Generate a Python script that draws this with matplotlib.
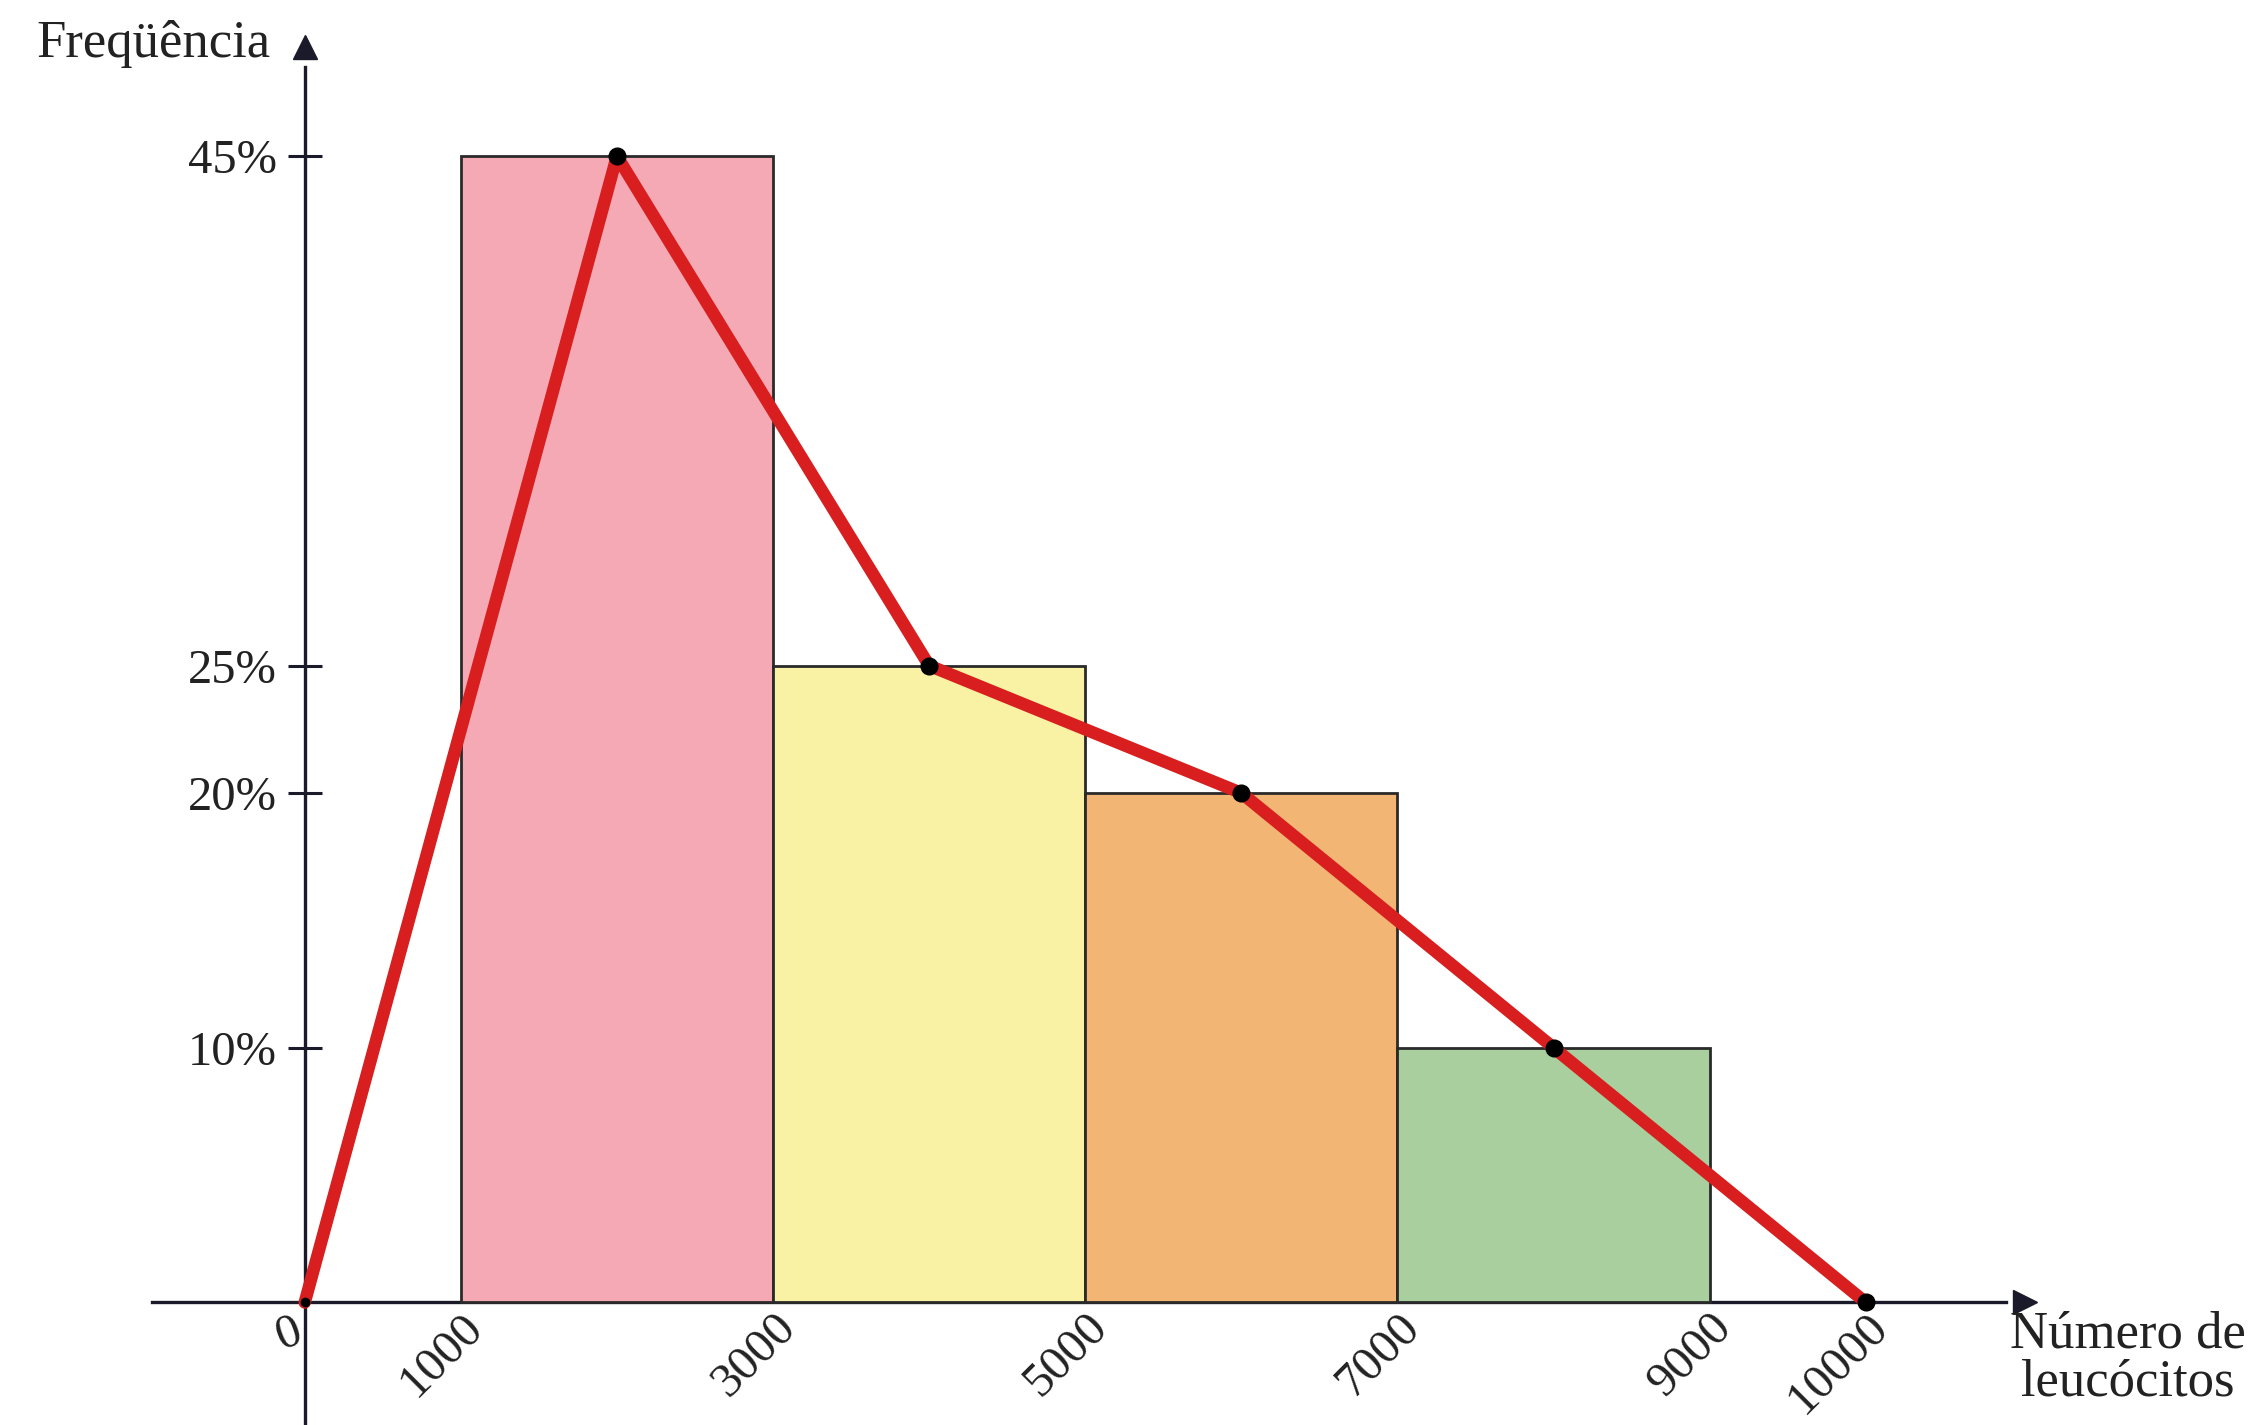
import numpy as np
import matplotlib.pyplot as plt

# classes de leucócitos (limites) e frequência relativa (%)
class_edges = [1000, 3000, 5000, 7000, 9000]
freq = [45, 25, 20, 10]
bar_colors = ['#f5a9b4', '#f9f1a3', '#f2b574', '#a9cf9e']

# polígono de frequências (pontos médios + extremos)
poly_x = [0, 2000, 4000, 6000, 8000, 10000]
poly_y = [0, 45, 25, 20, 10, 0]

x_ticks = [1000, 3000, 5000, 7000, 9000, 10000]
y_ticks = [10, 20, 25, 45]
y_ticklabels = ['10%', '20%', '25%', '45%']

plt.rcParams['font.family'] = ['Liberation Serif', 'DejaVu Serif']
plt.rcParams['text.color'] = '#222222'

fig = plt.figure(figsize=(22.64, 14.25), dpi=100)
ax = fig.add_axes([0, 0, 1, 1])
ax.set_xlim(-1952, 12551)
ax.set_ylim(-4.81, 51.13)

left = class_edges[:-1]
widths = np.diff(class_edges)
ax.bar(left, freq, width=widths, align='edge', color=bar_colors,
       edgecolor='#2a2a2a', linewidth=2, zorder=2)

ax.plot(poly_x, poly_y, color='#d81e1e', linewidth=9, zorder=3,
        solid_joinstyle='round', solid_capstyle='round')
ax.plot(poly_x[1:], poly_y[1:], 'o', color='black', markersize=12, zorder=4)
ax.plot(poly_x[:1], poly_y[:1], 'o', color='black', markersize=6, zorder=4)

# eixos cruzando na origem
for side in ['top', 'right']:
    ax.spines[side].set_visible(False)
ax.spines['left'].set_position(('data', 0))
ax.spines['bottom'].set_position(('data', 0))
ax.spines['left'].set_bounds(-4.81, 48.5)
ax.spines['bottom'].set_bounds(-980, 10900)
for side in ['left', 'bottom']:
    ax.spines[side].set_linewidth(2.4)
    ax.spines[side].set_color('#1a1a2a')
    ax.spines[side].set_zorder(1)
ax.plot([11020], [0], '>', color='#1a1a2a', markersize=17, clip_on=False)
ax.plot([0], [49.3], '^', color='#1a1a2a', markersize=17, clip_on=False)

ax.set_yticks(y_ticks)
ax.set_yticklabels(y_ticklabels)
ax.tick_params(axis='y', direction='inout', length=24, width=2.2,
               labelsize=35, pad=8, color='#1a1a2a', labelcolor='#222222')

ax.set_xticks(x_ticks)
ax.set_xticklabels([str(v) for v in x_ticks])
ax.tick_params(axis='x', length=0, labelsize=35, pad=2, labelcolor='#222222')
for lbl in ax.get_xticklabels():
    lbl.set_rotation(45)
    lbl.set_rotation_mode('anchor')
    lbl.set_ha('right')
    lbl.set_va('top')

ax.text(-80, -0.3, '0', fontsize=35, rotation=20, rotation_mode='anchor',
        ha='right', va='top')

ax.text(-220, 49.4, 'Freqüência', fontsize=38, ha='right', va='center')
ax.text(11680, -2.2, 'Número de\nleucócitos', fontsize=38, ha='center',
        va='center', linespacing=1.0)

fig.savefig('out.png', dpi=100, facecolor='white')
